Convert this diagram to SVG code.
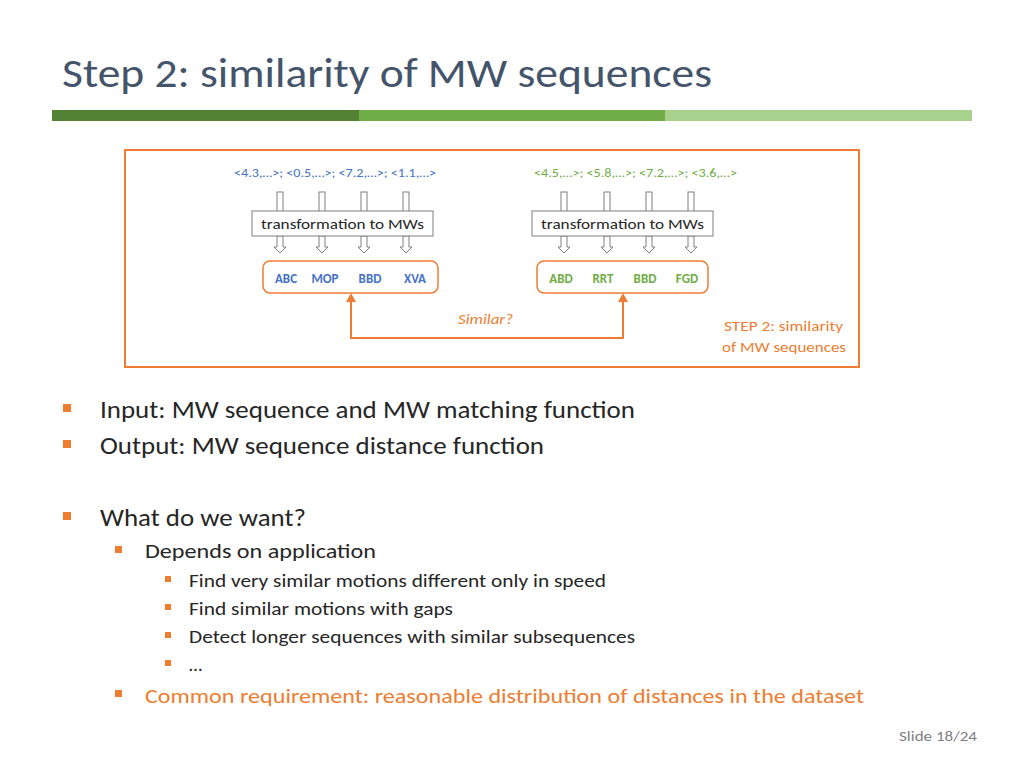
<svg xmlns="http://www.w3.org/2000/svg" width="1024" height="768" viewBox="0 0 1024 768">
<defs>
<style>
text{font-family:Calibri,"Liberation Sans",Carlito,sans-serif}
.sh{fill:#fff;stroke:#7f7f7f;stroke-width:1}
.bl{fill:#4472c4}.gr{fill:#70ad47}.or{fill:#ed7d31}
.b1{font-size:24px;fill:#262626}.b2{font-size:21px;fill:#262626}.b3{font-size:19px;fill:#262626}
.mw{font-size:13px;font-weight:bold;text-anchor:middle}
</style>
<g id="da">
<path d="M-3,0 V11 H-6 L0,17 L6,11 H3 V0 Z" class="sh"/>
</g>
<g id="ua"><rect x="-3" y="0" width="6" height="20" class="sh"/></g>
</defs>
<rect width="1024" height="768" fill="#fff"/>
<text x="62" y="87" font-size="42" fill="#44546a" textLength="650" lengthAdjust="spacingAndGlyphs">Step 2: similarity of MW sequences</text>
<rect x="52" y="110" width="307" height="11" fill="#548235"/>
<rect x="359" y="110" width="306" height="11" fill="#70ad47"/>
<rect x="665" y="110" width="307" height="11" fill="#a9d18e"/>
<rect id="frame" x="125" y="150" width="734" height="217" fill="none" stroke="#ed7d31" stroke-width="2"/>
<g id="seqL"><text x="234" y="177" font-size="13" class="bl" textLength="202" lengthAdjust="spacingAndGlyphs">&lt;4.3,…&gt;; &lt;0.5,…&gt;; &lt;7.2,…&gt;; &lt;1.1,…&gt;</text></g>
<g id="seqR"><text x="534" y="177" font-size="13" class="gr" textLength="203" lengthAdjust="spacingAndGlyphs">&lt;4.5,…&gt;; &lt;5.8,…&gt;; &lt;7.2,…&gt;; &lt;3.6,…&gt;</text></g>
<g id="arrows">
<use href="#ua" x="280" y="192"/><use href="#ua" x="322" y="192"/><use href="#ua" x="364" y="192"/><use href="#ua" x="406" y="192"/>
<use href="#ua" x="564" y="192"/><use href="#ua" x="607" y="192"/><use href="#ua" x="649" y="192"/><use href="#ua" x="691" y="192"/>
<use href="#da" x="280" y="236"/><use href="#da" x="322" y="236"/><use href="#da" x="364" y="236"/><use href="#da" x="406" y="236"/>
<use href="#da" x="564" y="236"/><use href="#da" x="607" y="236"/><use href="#da" x="649" y="236"/><use href="#da" x="691" y="236"/>
</g>
<g id="transL"><rect x="252" y="211" width="181" height="25" class="sh"/><text x="261" y="229" font-size="15" fill="#262626" textLength="163" lengthAdjust="spacingAndGlyphs">transformation to MWs</text></g>
<g id="transR"><rect x="532" y="211" width="181" height="25" class="sh"/><text x="541" y="229" font-size="15" fill="#262626" textLength="163" lengthAdjust="spacingAndGlyphs">transformation to MWs</text></g>
<g id="mwL"><rect x="263" y="261" width="175" height="32" rx="7" fill="#fff" stroke="#ed7d31" stroke-width="1.5"/>
<text x="286" y="283" class="mw bl">ABC</text><text x="325" y="283" class="mw bl">MOP</text><text x="370" y="283" class="mw bl">BBD</text><text x="415" y="283" class="mw bl">XVA</text></g>
<g id="mwR"><rect x="537" y="261" width="171" height="32" rx="7" fill="#fff" stroke="#ed7d31" stroke-width="1.5"/>
<text x="561" y="283" class="mw gr">ABD</text><text x="603" y="283" class="mw gr">RRT</text><text x="645" y="283" class="mw gr">BBD</text><text x="687" y="283" class="mw gr">FGD</text></g>
<g id="connectors">
<path d="M351,300 V338 H623 V300" fill="none" stroke="#ed7d31" stroke-width="2"/>
<path d="M351,293 L346,302 H356 Z M623,293 L618,302 H628 Z" fill="#ed7d31"/>
</g>
<text x="458" y="324" font-size="15" font-style="italic" class="or" textLength="55" lengthAdjust="spacingAndGlyphs">Similar?</text>
<text x="724" y="331" font-size="15" class="or" textLength="119" lengthAdjust="spacingAndGlyphs">STEP 2: similarity</text>
<text x="722" y="352" font-size="15" class="or" textLength="124" lengthAdjust="spacingAndGlyphs">of MW sequences</text>
<g class="or">
<rect x="63" y="404" width="8" height="8"/><rect x="63" y="440" width="8" height="8"/><rect x="63" y="512" width="8" height="8"/>
<rect x="115" y="546" width="7" height="7"/><rect x="115" y="690" width="7" height="7"/>
<rect x="165" y="576" width="6" height="6"/><rect x="165" y="604" width="6" height="6"/><rect x="165" y="632" width="6" height="6"/><rect x="165" y="660" width="6" height="6"/>
</g>
<text x="100" y="418" class="b1" textLength="535" lengthAdjust="spacingAndGlyphs">Input: MW sequence and MW matching function</text>
<text x="100" y="454" class="b1" textLength="444" lengthAdjust="spacingAndGlyphs">Output: MW sequence distance function</text>
<text x="100" y="526" class="b1" textLength="206" lengthAdjust="spacingAndGlyphs">What do we want?</text>
<text x="145" y="558" class="b2" textLength="231" lengthAdjust="spacingAndGlyphs">Depends on application</text>
<text x="189" y="587" class="b3" textLength="417" lengthAdjust="spacingAndGlyphs">Find very similar motions different only in speed</text>
<text x="189" y="615" class="b3" textLength="264" lengthAdjust="spacingAndGlyphs">Find similar motions with gaps</text>
<text x="189" y="643" class="b3" textLength="446" lengthAdjust="spacingAndGlyphs">Detect longer sequences with similar subsequences</text>
<text x="189" y="671" class="b3">…</text>
<text x="145" y="703" font-size="21" class="or" textLength="719" lengthAdjust="spacingAndGlyphs">Common requirement: reasonable distribution of distances in the dataset</text>
<text x="899" y="741" font-size="15" fill="#7f7f7f" textLength="78" lengthAdjust="spacingAndGlyphs">Slide 18/24</text>
</svg>
